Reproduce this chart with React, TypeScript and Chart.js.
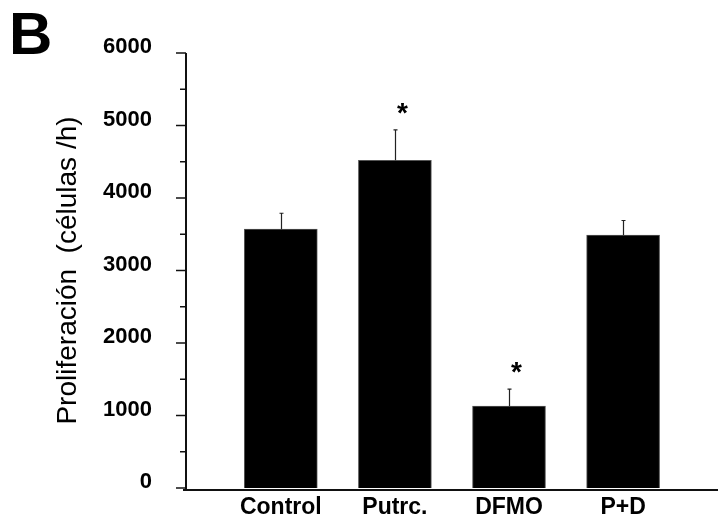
import React, { useEffect, useRef } from "react";
import { Chart, registerables } from "chart.js";

Chart.register(...registerables);

const categories = ["Control", "Putrc.", "DFMO", "P+D"];
const means = [3570, 4520, 1130, 3490];
const errors = [220, 420, 235, 200];
const significant = [false, true, true, false];
const yMajorTicks = [0, 1000, 2000, 3000, 4000, 5000, 6000];
const yMinorTicks = [500, 1500, 2500, 3500, 4500, 5500];
const yTitle = "Proliferación  (células /h)";
const panelLabel = "B";

const FONT = "'Liberation Sans', Arial, Helvetica, sans-serif";

export default function App() {
  const ref = useRef<HTMLCanvasElement>(null);

  useEffect(() => {
    const canvas = ref.current;
    if (!canvas) return;

    const overlay = {
      id: "overlay",
      afterDatasetsDraw(chart: any) {
        const { ctx, chartArea, scales } = chart;
        const xs = scales.x;
        const ys = scales.y;
        ctx.save();

        // error bars + significance marks
        means.forEach((m, i) => {
          const px = Math.round(xs.getPixelForValue(i)) + 0.5;
          const base = ys.getPixelForValue(m);
          const top = ys.getPixelForValue(m + errors[i]);
          ctx.strokeStyle = "#222";
          ctx.lineWidth = 1.2;
          ctx.beginPath();
          ctx.moveTo(px, base);
          ctx.lineTo(px, top);
          ctx.moveTo(px - 2, top);
          ctx.lineTo(px + 2, top);
          ctx.stroke();
          if (significant[i]) {
            ctx.fillStyle = "#000";
            ctx.font = `bold 28px ${FONT}`;
            ctx.textAlign = "center";
            ctx.textBaseline = "alphabetic";
            ctx.fillText("*", px + 7, top - 8);
          }
        });

        // y axis line
        const axX = chartArea.left + 1;
        ctx.strokeStyle = "#111";
        ctx.lineWidth = 2;
        ctx.beginPath();
        ctx.moveTo(axX, ys.getPixelForValue(yMajorTicks[yMajorTicks.length - 1]));
        ctx.lineTo(axX, ys.getPixelForValue(0) + 1);
        ctx.stroke();

        // ticks
        ctx.lineWidth = 1.5;
        yMajorTicks.forEach((v) => {
          const py = ys.getPixelForValue(v);
          ctx.beginPath();
          ctx.moveTo(chartArea.left - 9, py);
          ctx.lineTo(axX, py);
          ctx.stroke();
        });
        yMinorTicks.forEach((v) => {
          const py = ys.getPixelForValue(v);
          ctx.beginPath();
          ctx.moveTo(chartArea.left - 5, py);
          ctx.lineTo(axX, py);
          ctx.stroke();
        });

        // x axis line
        const xy = ys.getPixelForValue(0) + 2;
        ctx.lineWidth = 2;
        ctx.beginPath();
        ctx.moveTo(chartArea.left - 2, xy);
        ctx.lineTo(chart.width, xy);
        ctx.stroke();

        // panel label
        ctx.fillStyle = "#000";
        ctx.font = `bold 60px ${FONT}`;
        ctx.textAlign = "left";
        ctx.textBaseline = "alphabetic";
        ctx.fillText(panelLabel, 9, 54);

        ctx.restore();
      },
    };

    const chart = new Chart(canvas, {
      type: "bar",
      data: {
        datasets: [
          {
            data: means.map((m, i) => ({ x: i, y: m })),
            backgroundColor: "#000",
            borderColor: "#555",
            borderWidth: 1,
            barThickness: 73,
          },
        ],
      },
      options: {
        responsive: false,
        maintainAspectRatio: false,
        animation: false,
        layout: { padding: { top: 53, right: 0, bottom: 0, left: 0 } },
        plugins: {
          legend: { display: false },
          tooltip: { enabled: false },
        },
        scales: {
          x: {
            type: "linear",
            min: -0.8396,
            max: 3.8317,
            offset: false,
            grid: { display: false, drawTicks: false },
            border: { display: false },
            afterBuildTicks: (s: any) => {
              s.ticks = categories.map((_, i) => ({ value: i }));
            },
            afterFit: (s: any) => {
              s.height = 32;
              s.paddingLeft = 0;
              s.paddingRight = 0;
            },
            ticks: {
              autoSkip: false,
              maxRotation: 0,
              padding: 6,
              color: "#000",
              font: { family: FONT, size: 23, weight: "bold" },
              callback: (v: any) => categories[v] ?? "",
            },
          },
          y: {
            type: "linear",
            min: 0,
            max: 6000,
            grid: { display: false, drawTicks: false },
            border: { display: false },
            afterBuildTicks: (s: any) => {
              s.ticks = yMajorTicks.map((v) => ({ value: v }));
            },
            afterFit: (s: any) => {
              s.width = 185;
              s.paddingTop = 0;
              s.paddingBottom = 0;
            },
            ticks: {
              padding: 33,
              labelOffset: -6,
              color: "#000",
              font: { family: FONT, size: 22, weight: "bold" },
              callback: (v: any) => String(v),
            },
            title: {
              display: true,
              text: yTitle,
              color: "#000",
              font: { family: FONT, size: 28 },
              padding: { top: 51, bottom: 0 },
            },
          },
        },
      },
      plugins: [overlay],
    });

    return () => chart.destroy();
  }, []);

  return (
    <div style={{ position: "absolute", left: 0, top: 0, width: 718, height: 520, background: "#fff" }}>
      <canvas ref={ref} width={718} height={520} style={{ display: "block" }} />
    </div>
  );
}
